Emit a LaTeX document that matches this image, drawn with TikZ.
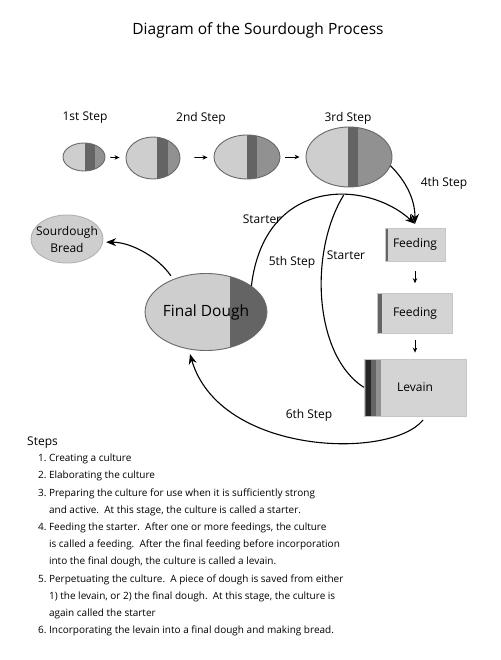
\documentclass[tikz,border=0pt]{standalone}
\usepackage{fontspec}
\setmainfont{Open Sans}
\usetikzlibrary{arrows.meta,shapes.geometric,positioning,calc}
\definecolor{eggpale}{RGB}{206,206,206}
\definecolor{eggmid}{RGB}{145,145,145}
\definecolor{eggdark}{RGB}{100,100,100}
\definecolor{rimcolor}{RGB}{105,105,105}
\definecolor{cardfill}{RGB}{212,212,212}

\begin{document}
\begin{tikzpicture}[x=1pt,y=-1pt,
  egg/.style={ellipse,draw=rimcolor,line width=0.9pt,fill=eggpale,inner sep=0pt},
  band/.style 2 args={path picture={
    \fill[eggdark] ($(path picture bounding box.south west)!#1!(path picture bounding box.south east)$)
      rectangle ($(path picture bounding box.north west)!#2!(path picture bounding box.north east)$);
    \fill[eggmid] ($(path picture bounding box.south west)!#2!(path picture bounding box.south east)$)
      rectangle (path picture bounding box.north east);}},
  card/.style={rectangle,draw=gray!45,fill=cardfill,inner sep=0pt,font=\fontsize{12}{14}\selectfont},
  strip/.style={path picture={\fill[eggdark] (path picture bounding box.south west)
      rectangle ([xshift=#1]path picture bounding box.north west);}},
  flow/.style={-{Stealth[length=5pt,width=4.5pt]},line width=0.8pt},
  bigarrow/.style={-{Stealth[length=10pt,width=8pt]},line width=1.1pt},
  steplabel/.style={font=\fontsize{12}{14}\selectfont,inner sep=1pt}]
\useasboundingbox (0,0) rectangle (500,660);
\node[font=\fontsize{15.5}{18}\selectfont] (title) at (258,30) {Diagram of the Sourdough Process};
% culture growing
\node[egg,minimum width=42,minimum height=28,band={0.52}{0.76}] (e1) at (84,157) {};
\node[egg,minimum width=54,minimum height=42,band={0.58}{0.77}] (e2) at (153,158) {};
\node[egg,minimum width=66,minimum height=44,band={0.5}{0.65}] (e3) at (247,157) {};
\node[egg,minimum width=86,minimum height=60,band={0.49}{0.6}] (e4) at (349,157) {};
\node[steplabel] (s1) at (85,118) {1st Step};
\node[steplabel] (s2) at (201,118) {2nd Step};
\node[steplabel] (s3) at (348,118) {3rd Step};
\foreach \a/\b/\g in {e1/e2/5,e2/e3/14,e3/e4/5}
  \draw[flow,shorten <=\g pt,shorten >=6pt] (\a) -- (\b);
% feedings
\node[card,minimum width=60,minimum height=33,strip=3pt] (feed1) at (415,244.5) {Feeding};
\node[card,minimum width=75,minimum height=40,strip=4pt,below=32pt of feed1] (feed2) {Feeding};
\node[card,minimum width=102,minimum height=57,below=25pt of feed2,
  path picture={
    \fill[eggmid] (path picture bounding box.south west) rectangle ([xshift=17pt]path picture bounding box.north west);
    \fill[eggdark] (path picture bounding box.south west) rectangle ([xshift=12pt]path picture bounding box.north west);
    \fill[black!85] ([xshift=2pt]path picture bounding box.south west) rectangle ([xshift=7pt]path picture bounding box.north west);}] (lev) {Levain};
\draw[flow,shorten <=10pt,shorten >=10pt] (feed1) -- (feed2);
\draw[flow,shorten <=6pt,shorten >=6pt] (feed2) -- (lev);
% dough and bread
\node[egg,minimum width=116,minimum height=77,band={0.7}{1},font=\fontsize{15.5}{18}\selectfont] (fd) at (206,312) {Final Dough};
\node[egg,draw=gray!60,minimum width=72,minimum height=48,inner xsep=-10pt,align=center,
  font=\fontsize{12}{17}\selectfont] (bread) at (67,239) {Sourdough\\Bread};
\coordinate (tip) at ([yshift=4pt]feed1.north);
\draw[bigarrow] (e4.-12) .. controls +(15,15) and +(0,-25) .. (tip);
\draw[bigarrow] (fd.30) .. controls +(13,-108) and +(-50,-45) .. (tip) coordinate[pos=0.62] (join);
\draw[line width=1.1pt] (lev.west) .. controls +(-50,-32) and +(-35,57) .. (join);
\draw[bigarrow,shorten >=5pt] ([xshift=8pt,yshift=-4pt]lev.south) .. controls +(-32,40) and +(31,106) .. (fd.-115);
\draw[bigarrow,shorten <=4pt,shorten >=3pt] (fd.135) .. controls +(-15,-22) and +(28,0) .. (bread.-5);
\node[steplabel] (s4) at (444,183) {4th Step};
\node[steplabel] (st1) at (262,219) {Starter};
\node[steplabel] (s5) at (292,262) {5th Step};
\node[steplabel] (st2) at (346,255) {Starter};
\node[steplabel] (s6) at (309,415) {6th Step};
% the list of steps
\node[font=\fontsize{12}{14}\selectfont,anchor=base west,inner sep=0pt] (steps) at (27,445) {Steps};
\node[anchor=north west,inner sep=0pt,font=\fontsize{10}{17.2}\selectfont] (list) at (38,449.5) {%
  \begin{tabular}{@{}r@{\hspace{2.5pt}}l@{}}
  1. & Creating a culture\\
  2. & Elaborating the culture\\
  3. & Preparing the culture for use when it is sufficiently strong\\
     & and active.\ \ At this stage, the culture is called a starter.\\
  4. & Feeding the starter.\ \ After one or more feedings, the culture\\
     & is called a feeding.\ \ After the final feeding before incorporation\\
     & into the final dough, the culture is called a levain.\\
  5. & Perpetuating the culture.\ \ A piece of dough is saved from either\\
     & 1) the levain, or 2) the final dough.\ \ At this stage, the culture is\\
     & again called the starter\\
  6. & Incorporating the levain into a final dough and making bread.
  \end{tabular}};
\end{tikzpicture}
\end{document}
